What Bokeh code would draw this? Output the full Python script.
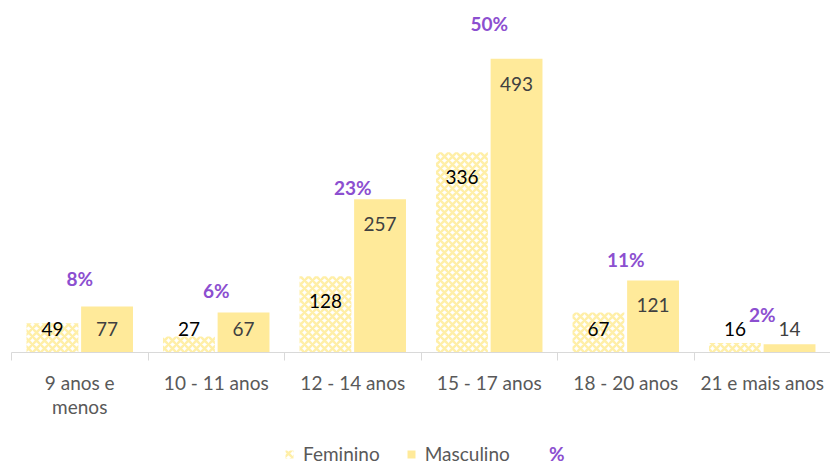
from bokeh.plotting import figure
from bokeh.layouts import column
from bokeh.models import Range1d, FixedTicker, ColumnDataSource, Legend, LegendItem
from bokeh.core.properties import value
from bokeh.embed import file_html
from bokeh.resources import INLINE

categories = ["9 anos e\nmenos", "10 - 11 anos", "12 - 14 anos", "15 - 17 anos", "18 - 20 anos", "21 e mais anos"]
feminino = [49, 27, 128, 336, 67, 16]
masculino = [77, 67, 257, 493, 121, 14]
percent = [8, 6, 23, 50, 11, 2]

n = len(categories)
centers = [i + 0.5 for i in range(n)]
FONT = "Lato"
YEL = "#FFEA9A"
HATCH = "#FFEFA8"
PURPLE = "#8C4FD0"
GRAY = "#595959"

src = ColumnDataSource(dict(
    xc=centers,
    xf=[c - 0.2 for c in centers],
    xm=[c + 0.2 for c in centers],
    fem=feminino,
    mas=masculino,
    fem_lbl=[str(v) for v in feminino],
    mas_lbl=[str(v) for v in masculino],
    fem_y=[max(v - 42, 40) for v in feminino],
    mas_y=[max(v - 42, 40) for v in masculino],
    pct=percent,
    pct_lbl=[f"{v}%" for v in percent],
))

p = figure(width=830, height=435, output_backend="svg", toolbar_location=None,
           x_range=Range1d(0, n), y_range=Range1d(0, 574),
           min_border_left=11, min_border_right=0, min_border_top=10, min_border_bottom=83)
p.extra_y_ranges = {"pct": Range1d(0, 56.5)}
p.outline_line_color = None
p.xgrid.visible = False
p.ygrid.visible = False
p.yaxis.visible = False

bar_style_f = dict(fill_color="white", hatch_pattern="diagonal_cross", hatch_color=HATCH,
                   hatch_weight=2.5, hatch_scale=8, line_color=None)
bar_style_m = dict(fill_color=YEL, line_color=None)

p.vbar(x="xf", top="fem", width=0.38, source=src, **bar_style_f)
p.vbar(x="xm", top="mas", width=0.38, source=src, **bar_style_m)

p.text(x="xf", y="fem_y", text="fem_lbl", source=src, text_align="center", text_baseline="middle",
       text_font=value(FONT), text_font_size="19px", text_color="#000000")
p.text(x="xm", y="mas_y", text="mas_lbl", source=src, text_align="center", text_baseline="middle",
       text_font=value(FONT), text_font_size="19px", text_color="#404040")
p.text(x="xc", y="pct", text="pct_lbl", source=src, y_range_name="pct", y_offset=-26,
       text_align="center", text_baseline="middle", text_font=value(FONT), text_font_size="19px",
       text_font_style="bold", text_color=PURPLE)

ax = p.xaxis[0]
ax.ticker = FixedTicker(ticks=centers, minor_ticks=list(range(n + 1)))
ax.major_label_overrides = {c: lab for c, lab in zip(centers, categories)}
ax.axis_line_color = "#D9D9D9"
ax.axis_line_width = 1
ax.major_tick_line_color = None
ax.major_tick_out = 0
ax.major_tick_in = 0
ax.minor_tick_line_color = "#D9D9D9"
ax.minor_tick_out = 8
ax.minor_tick_in = 0
ax.major_label_text_font = FONT
ax.major_label_text_font_size = "19px"
ax.major_label_text_color = GRAY
ax.major_label_text_line_height = 1.05
ax.major_label_standoff = 10

# legend strip (dummy renderers kept outside the visible range)
lg = figure(width=830, height=30, output_backend="svg", toolbar_location=None,
            x_range=Range1d(0, 1), y_range=Range1d(0, 1),
            min_border_left=0, min_border_right=0, min_border_top=0, min_border_bottom=0)
lg.outline_line_color = None
lg.axis.visible = False
lg.grid.visible = False
lf = lg.vbar(x=[5], top=[5], width=0.1, **bar_style_f)
lm = lg.vbar(x=[5], top=[5], width=0.1, **bar_style_m)
lp = lg.line(x=[5, 6], y=[5, 5], line_alpha=0)

leg1 = Legend(items=[LegendItem(label="Feminino", renderers=[lf]),
                     LegendItem(label="Masculino", renderers=[lm])],
              location=(273, 0), orientation="horizontal",
              glyph_width=10, glyph_height=10, label_height=10, label_standoff=9, spacing=26,
              padding=0, margin=0, border_line_color=None, background_fill_alpha=0,
              label_text_font=FONT, label_text_font_size="19px", label_text_color=GRAY)
leg2 = Legend(items=[LegendItem(label="%", renderers=[lp])],
              location=(509, 0), orientation="horizontal",
              glyph_width=20, glyph_height=10, label_height=10, label_standoff=9,
              padding=0, margin=0, border_line_color=None, background_fill_alpha=0,
              label_text_font=FONT, label_text_font_size="19px", label_text_font_style="bold",
              label_text_color=PURPLE)
lg.add_layout(leg1, "center")
lg.add_layout(leg2, "center")

layout = column(p, lg, spacing=0)
open("out.html", "w").write(file_html(layout, INLINE))
